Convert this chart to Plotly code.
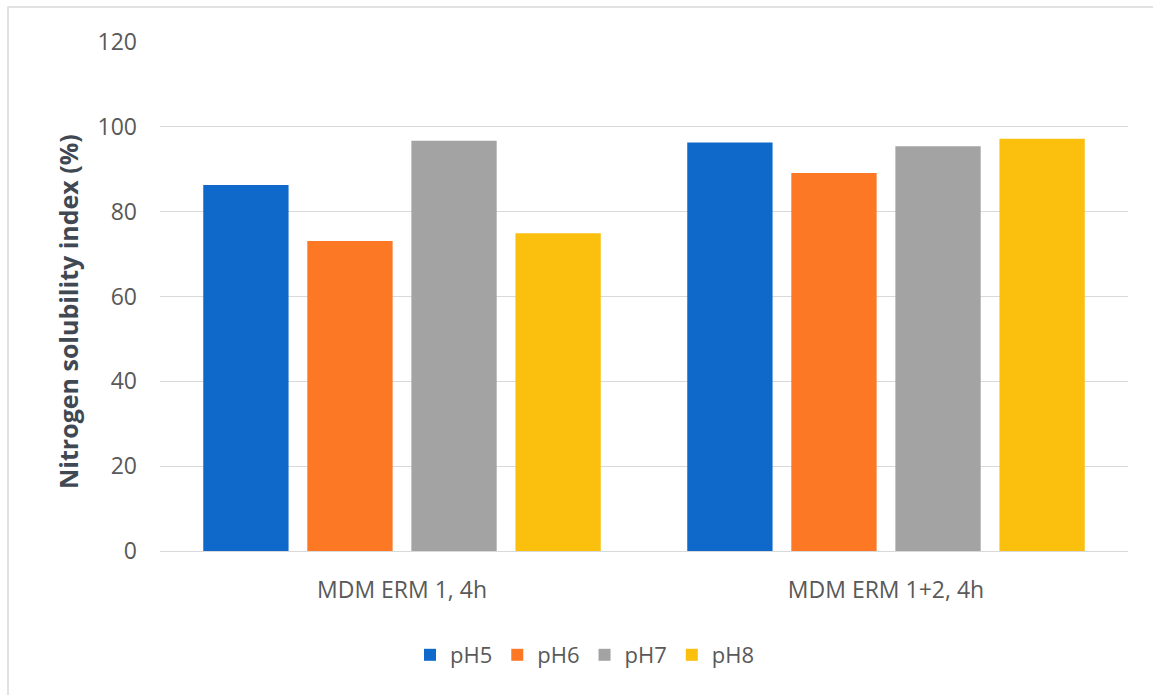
import plotly.graph_objects as go

categories = ["MDM ERM 1, 4h", "MDM ERM 1+2, 4h"]
series_names = ["pH5", "pH6", "pH7", "pH8"]
ph5 = [86.3, 96.3]
ph6 = [73.1, 89.1]
ph7 = [96.7, 95.4]
ph8 = [74.9, 97.2]
y_ticks = [0, 20, 40, 60, 80, 100, 120]

values = [ph5, ph6, ph7, ph8]
colors = ["#0f69cb", "#fd7825", "#a3a3a3", "#fbbf0e"]

W, H = 1153, 695
L, R, T, B = 160, 25, 42, 144

fig = go.Figure()
for name, vals, col in zip(series_names, values, colors):
    fig.add_trace(go.Bar(name=name, x=categories, y=vals, marker=dict(color=col, line=dict(width=0))))

pw = W - L - R
ph = H - T - B

fig.update_layout(
    width=W, height=H,
    margin=dict(l=L, r=R, t=T, b=B),
    paper_bgcolor="white", plot_bgcolor="white",
    barmode="group", bargap=0.14, bargroupgap=0.18,
    font=dict(family="Open Sans", color="#595959", size=22),
    showlegend=True,
    legend=dict(orientation="h", x=(585 - L) / pw, xanchor="center",
                y=(H - B - 655) / ph, yanchor="middle",
                font=dict(size=22, color="#595959"), itemwidth=30,
                traceorder="normal"),
    xaxis=dict(showgrid=False, showline=False, ticks="", ticklabelstandoff=23,
               tickfont=dict(size=23, color="#595959")),
    yaxis=dict(range=[0, 120], tickvals=y_ticks, showgrid=True, gridcolor="#d9d9d9",
               gridwidth=1, zeroline=True, zerolinecolor="#d9d9d9", zerolinewidth=1,
               showline=False, ticks="", ticklabelstandoff=22,
               tickfont=dict(size=23, color="#595959")),
    annotations=[dict(text="<b>Nitrogen solubility index (%)</b>", textangle=-90,
                      xref="paper", yref="paper", x=(68 - L) / pw, y=(H - B - 312) / ph,
                      showarrow=False, font=dict(size=25, color="#404853"),
                      xanchor="center", yanchor="middle")],
    shapes=[dict(type="rect", xref="paper", yref="paper",
                 x0=(8 - L) / pw, x1=(W + 5 - L) / pw,
                 y0=(H - B - (H + 5)) / ph, y1=(H - B - 7) / ph,
                 line=dict(color="#d9d9d9", width=1.5), layer="below")],
)

fig.write_html("out.html")
